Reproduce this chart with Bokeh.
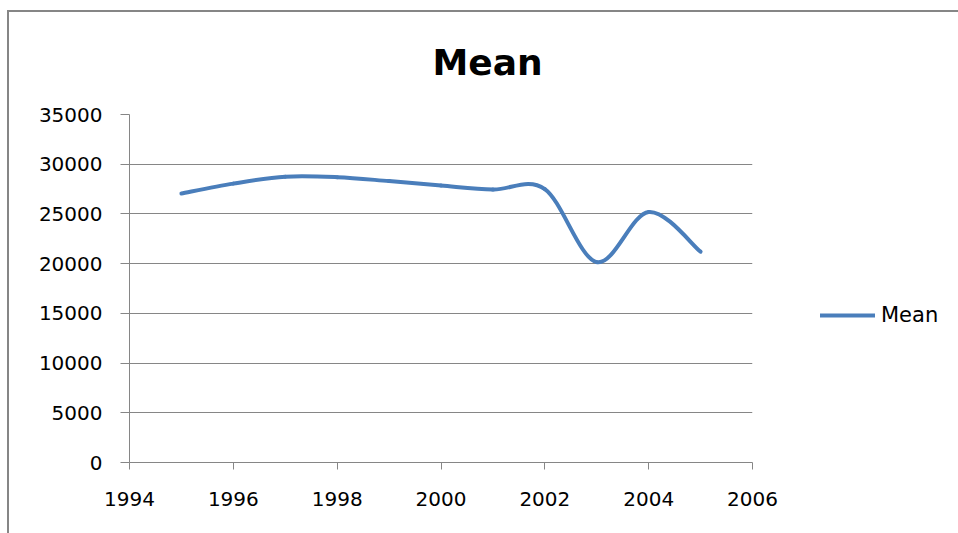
from bokeh.plotting import figure
from bokeh.models import (Range1d, FixedTicker, Legend, LegendItem, Title,
                          ColumnDataSource)
from bokeh.embed import file_html
from bokeh.resources import INLINE

# Yearly mean values
years = [1995, 1996, 1997, 1998, 1999, 2000, 2001, 2002, 2003, 2004, 2005]
mean_values = [27050, 28050, 28750, 28700, 28300, 27850, 27450, 27500, 20150, 25200, 21200]

x_ticks = [1994, 1996, 1998, 2000, 2002, 2004, 2006]
y_ticks = [0, 5000, 10000, 15000, 20000, 25000, 30000, 35000]

LINE_COLOR = "#4a7ebb"
AXIS_COLOR = "#868686"
FONT = "DejaVu Sans"

# Smoothed line: one cubic Bezier per segment with Catmull-Rom style control points
n = len(years)
seg = dict(x0=[], y0=[], x1=[], y1=[], cx0=[], cy0=[], cx1=[], cy1=[])
for i in range(n - 1):
    p0 = max(i - 1, 0)
    p3 = min(i + 2, n - 1)
    seg["x0"].append(years[i]); seg["y0"].append(mean_values[i])
    seg["x1"].append(years[i + 1]); seg["y1"].append(mean_values[i + 1])
    seg["cx0"].append(years[i] + (years[i + 1] - years[p0]) / 6)
    seg["cy0"].append(mean_values[i] + (mean_values[i + 1] - mean_values[p0]) / 6)
    seg["cx1"].append(years[i + 1] - (years[p3] - years[i]) / 6)
    seg["cy1"].append(mean_values[i + 1] - (mean_values[p3] - mean_values[i]) / 6)
source = ColumnDataSource(seg)

p = figure(output_backend="svg", toolbar_location=None,
           frame_width=623, frame_height=348,
           min_border_left=120, min_border_top=102,
           min_border_right=200, min_border_bottom=71,
           x_range=Range1d(1994, 2006), y_range=Range1d(0, 35000))
p.styles = {"margin-left": "7px", "margin-top": "10px",
            "border-left": f"2px solid {AXIS_COLOR}",
            "border-top": f"2px solid {AXIS_COLOR}"}
p.outline_line_color = None
p.background_fill_color = "white"
p.border_fill_color = "white"

title = Title(text="Mean", align="left", offset=303, standoff=59,
              vertical_align="top",
              text_font=FONT, text_font_style="bold", text_font_size="36px",
              text_color="black")
p.add_layout(title, "above")

r = p.bezier(x0="x0", y0="y0", x1="x1", y1="y1",
             cx0="cx0", cy0="cy0", cx1="cx1", cy1="cy1",
             source=source, line_color=LINE_COLOR, line_width=4,
             line_cap="round")

# Axes
p.xaxis.ticker = FixedTicker(ticks=x_ticks)
p.yaxis.ticker = FixedTicker(ticks=y_ticks)
for ax in (p.xaxis, p.yaxis):
    ax.axis_line_color = AXIS_COLOR
    ax.major_tick_line_color = AXIS_COLOR
    ax.minor_tick_line_color = None
    ax.major_tick_in = 0
    ax.major_label_text_font = FONT
    ax.major_label_text_font_size = "20px"
    ax.major_label_text_color = "black"
p.xaxis.major_tick_out = 7
p.xaxis.major_label_standoff = 22
p.yaxis.major_tick_out = 9
p.yaxis.major_label_standoff = 18

p.xgrid.grid_line_color = None
p.ygrid.grid_line_color = AXIS_COLOR
p.ygrid.grid_line_width = 1

legend = Legend(items=[LegendItem(label="Mean", renderers=[r])],
                location=(68, 135), border_line_color=None,
                background_fill_alpha=0, padding=10, margin=0,
                glyph_width=55, label_standoff=6,
                label_text_font=FONT, label_text_font_size="21px",
                label_text_color="black")
p.add_layout(legend, "right")

open("out.html", "w").write(file_html(p, INLINE))
